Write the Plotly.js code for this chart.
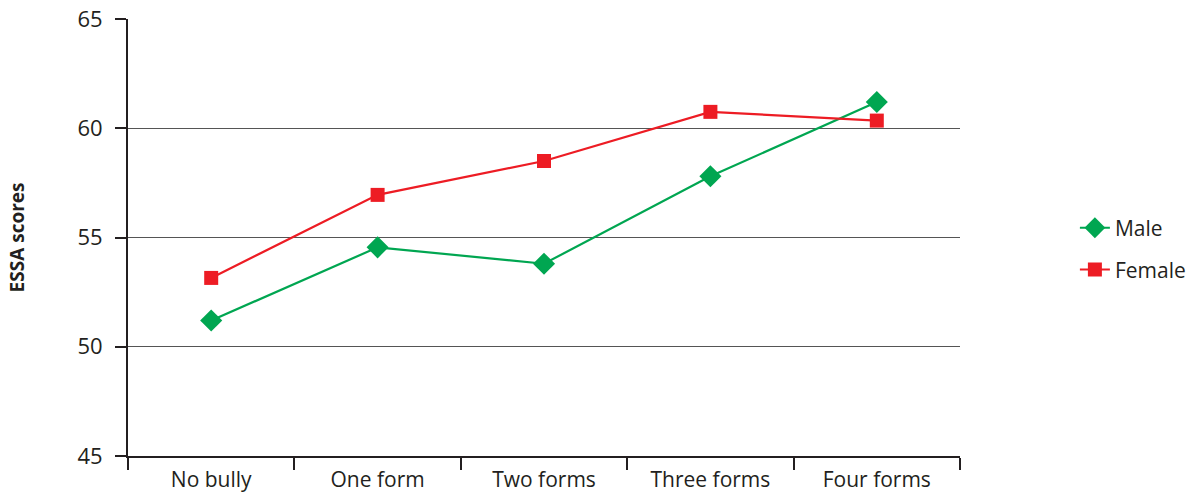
<!DOCTYPE html>
<html>
<head>
<meta charset="utf-8">
<script src="https://cdn.plot.ly/plotly-3.0.1.min.js"></script>
<style>html,body{margin:0;padding:0;background:#fff;}#chart{width:1201px;height:497px;}</style>
</head>
<body>
<div id="chart"></div>
<script>
const categories = ["No bully", "One form", "Two forms", "Three forms", "Four forms"];
const maleScores = [51.2, 54.55, 53.8, 57.8, 61.2];
const femaleScores = [53.15, 56.95, 58.5, 60.75, 60.35];
const yTickVals = [45, 50, 55, 60, 65];
const yTickText = ["45", "50", "55", "60", "65"];

const font = "'Open Sans', 'Noto Sans', sans-serif";

const traces = [
  {
    x: categories, y: maleScores, name: "Male", type: "scatter", mode: "lines+markers",
    line: {color: "#00A651", width: 2.2},
    marker: {symbol: "diamond", size: 17, color: "#00A651"},
    legend: "legend"
  },
  {
    x: categories, y: femaleScores, name: "Female", type: "scatter", mode: "lines+markers",
    line: {color: "#ED1C24", width: 2.2},
    marker: {symbol: "square", size: 14, color: "#ED1C24"},
    legend: "legend2"
  }
];

const legendCommon = {xref: "container", yref: "container", xanchor: "left", yanchor: "middle", font: {size: 21, color: "#231F20"}, bgcolor: "rgba(0,0,0,0)"};

const layout = {
  width: 1201, height: 497,
  margin: {l: 128, r: 241, t: 19, b: 41},
  paper_bgcolor: "#fff", plot_bgcolor: "#fff",
  font: {family: font, size: 21, color: "#231F20"},
  showlegend: true,
  legend: Object.assign({x: 0.895, y: 0.541}, legendCommon),
  legend2: Object.assign({x: 0.895, y: 0.457}, legendCommon),
  xaxis: {
    type: "category", range: [-0.5, 4.5],
    tickson: "boundaries", ticks: "outside", ticklen: 12, tickwidth: 2, tickcolor: "#231F20",
    showline: true, linecolor: "#231F20", linewidth: 2,
    showgrid: false, zeroline: false,
    ticklabelstandoff: 4,
    tickfont: {size: 21, color: "#231F20"}
  },
  yaxis: {
    range: [45, 65], tickmode: "array", tickvals: yTickVals, ticktext: yTickText,
    ticks: "outside", ticklen: 11, tickwidth: 2, tickcolor: "#231F20",
    showline: true, linecolor: "#231F20", linewidth: 2,
    showgrid: true, gridcolor: "#555", gridwidth: 1, zeroline: false,
    ticklabelstandoff: 8,
    tickfont: {size: 22, color: "#231F20"},
    title: {text: "<b>ESSA scores</b>", font: {size: 19, color: "#231F20"}, standoff: 48}
  }
};

Plotly.newPlot("chart", traces, layout, {displayModeBar: false, staticPlot: true});
</script>
</body>
</html>
